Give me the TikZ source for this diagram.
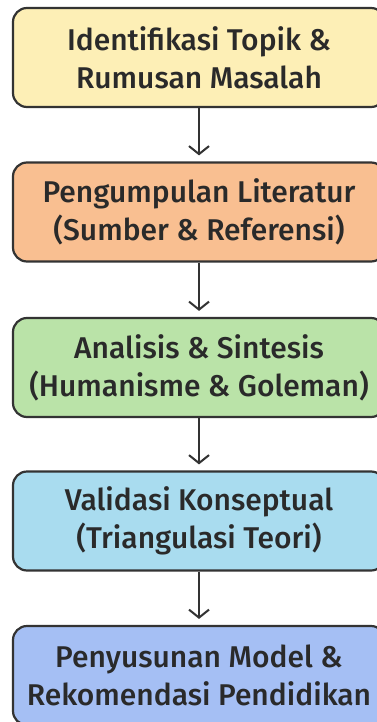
\documentclass[tikz,border=0pt]{standalone}
\usepackage{fontspec}
\setmainfont{Fira Sans Medium}
\usetikzlibrary{arrows.meta}
\definecolor{c1}{HTML}{FDEFB6}
\definecolor{c2}{HTML}{F9BF91}
\definecolor{c3}{HTML}{BAE3A8}
\definecolor{c4}{HTML}{A9DCEF}
\definecolor{c5}{HTML}{A5BFF4}
\definecolor{edge}{HTML}{333333}
\definecolor{txt}{HTML}{2A2A2A}
\tikzset{
  stepbox/.style={draw=edge, line width=2.2pt, rounded corners=14pt,
    minimum width=372pt, minimum height=99pt, align=center,
    font=\fontsize{30}{38}\selectfont, text=txt, inner sep=0pt},
  flow/.style={draw=edge, line width=2pt, -{Straight Barb[length=8pt,width=20pt,line width=2pt]}, shorten >=6pt}
}
\begin{document}
\begin{tikzpicture}[x=1pt,y=-1pt]
\useasboundingbox[fill=white] (0,0) rectangle (377,722);
\node[stepbox, fill=c1] (a) at (199,57.5) {Identifikasi Topik \&\\Rumusan Masalah};
\node[stepbox, fill=c2] (b) at (199,212) {Pengumpulan Literatur\\(Sumber \& Referensi)};
\node[stepbox, fill=c3] (c) at (199,367.5) {Analisis \& Sintesis\\(Humanisme \& Goleman)};
\node[stepbox, fill=c4] (d) at (199,521) {Validasi Konseptual\\(Triangulasi Teori)};
\node[stepbox, fill=c5] (e) at (199,675.5) {Penyusunan Model \&\\Rekomendasi Pendidikan};
\draw[flow] (a) -- (b);
\draw[flow] (b) -- (c);
\draw[flow] (c) -- (d);
\draw[flow] (d) -- (e);
\end{tikzpicture}
\end{document}
